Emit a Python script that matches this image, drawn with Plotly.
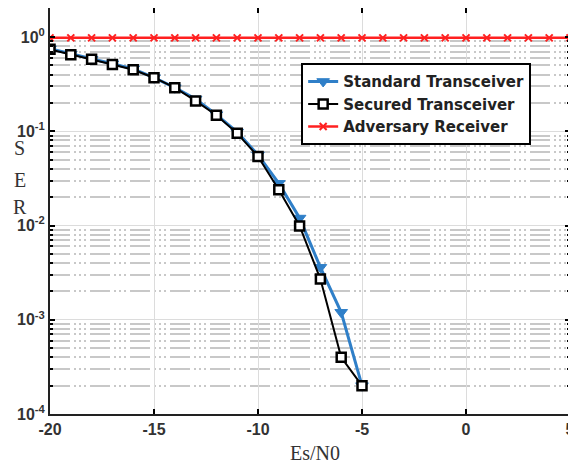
import plotly.graph_objects as go

snr_db = [-20, -19, -18, -17, -16, -15, -14, -13, -12, -11, -10, -9, -8, -7, -6, -5]
ser_standard = [0.75, 0.66, 0.58, 0.52, 0.46, 0.37, 0.29, 0.22, 0.15, 0.098, 0.056, 0.028, 0.012, 0.0036, 0.0012, 0.0002]
ser_secured = [0.74, 0.65, 0.58, 0.51, 0.45, 0.37, 0.29, 0.21, 0.148, 0.095, 0.054, 0.024, 0.0099, 0.0027, 0.0004, 0.0002]
snr_adv = list(range(-20, 6))
ser_adversary = [0.98] * len(snr_adv)

x_ticks = [-20, -15, -10, -5, 0, 5]
y_ticks = [1e-4, 1e-3, 1e-2, 1e-1, 1]
y_ticktext = ["10<sup>-4</sup>", "10<sup>-3</sup>", "10<sup>-2</sup>", "10<sup>-1</sup>", "10<sup>0</sup>"]
y_minor = [k * 10.0 ** e for e in range(-4, 1) for k in range(2, 10)]

fig = go.Figure()
fig.add_trace(go.Scatter(
    x=snr_db, y=ser_standard, mode="lines+markers", name="<b>Standard Transceiver</b>",
    line=dict(color="#2f7fc8", width=3),
    marker=dict(symbol="triangle-down", size=11, color="#2f7fc8",
                line=dict(color="#2f7fc8", width=1))))
fig.add_trace(go.Scatter(
    x=snr_db, y=ser_secured, mode="lines+markers", name="<b>Secured Transceiver</b>",
    line=dict(color="black", width=2),
    marker=dict(symbol="square", size=9, color="white",
                line=dict(color="black", width=2.5))))
fig.add_trace(go.Scatter(
    x=snr_adv, y=ser_adversary, mode="lines+markers", name="<b>Adversary Receiver</b>",
    line=dict(color="#ff2020", width=2.5),
    marker=dict(symbol="x-thin", size=7, color="#ff2020",
                line=dict(color="#ff2020", width=2))))

axis_font = dict(family="Liberation Sans, Arial, sans-serif", size=16, color="#333333")
serif = dict(family="Liberation Serif, Times New Roman, serif", size=20, color="#333333")

fig.update_layout(
    width=568, height=462,
    margin=dict(l=42, r=6, t=0, b=56, autoexpand=False),
    paper_bgcolor="white", plot_bgcolor="white",
    showlegend=True,
    legend=dict(x=0.483, y=0.864, xanchor="left", yanchor="top",
                bgcolor="white", bordercolor="black", borderwidth=2,
                font=dict(family="DejaVu Sans, sans-serif", size=15, color="#222222"),
                tracegroupgap=0, itemwidth=30),
    xaxis=dict(range=[-20, 5], tickvals=x_ticks, automargin=False,
               ticktext=["<b>%d</b>" % v for v in x_ticks],
               tickfont=axis_font, ticks="inside", ticklen=5, tickwidth=2, tickcolor="black",
               showline=True, linecolor="#222222", linewidth=2, mirror="ticks",
               showgrid=True, gridcolor="#dcdcdc", gridwidth=1, zeroline=False),
    yaxis=dict(type="log", range=[-4, 0.308], tickvals=y_ticks, automargin=False,
               ticktext=["<b>%s</b>" % t for t in y_ticktext],
               tickfont=axis_font, ticks="inside", ticklen=5, tickwidth=2, tickcolor="black",
               showline=True, linecolor="#222222", linewidth=2, mirror="ticks",
               showgrid=True, gridcolor="#dcdcdc", gridwidth=1, zeroline=False,
               minor=dict(tickvals=y_minor, ticks="inside", ticklen=3, tickwidth=1.5,
                          tickcolor="black", showgrid=True, gridcolor="#c8c8c8",
                          gridwidth=1.5, griddash="20px,4px,2px,3px,2px,3px,2px,4px")),
    annotations=[
        dict(text="S", xref="paper", yref="paper", x=-0.058, y=0.655,
             xanchor="center", yanchor="middle", showarrow=False, font=serif),
        dict(text="E", xref="paper", yref="paper", x=-0.058, y=0.576,
             xanchor="center", yanchor="middle", showarrow=False, font=serif),
        dict(text="R", xref="paper", yref="paper", x=-0.058, y=0.510,
             xanchor="center", yanchor="middle", showarrow=False, font=serif),
        dict(text="Es/N0", xref="paper", yref="paper", x=0.51, y=-0.096,
             xanchor="center", yanchor="middle", showarrow=False, font=serif),
    ],
)

fig.write_html("out.html")
